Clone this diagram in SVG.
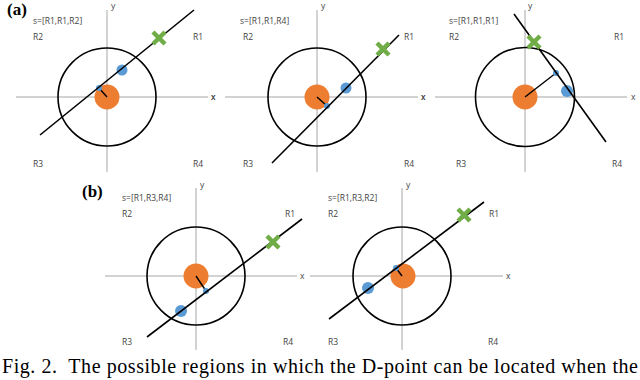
<svg xmlns="http://www.w3.org/2000/svg" width="640" height="380" viewBox="0 0 640 380">
<defs>
<style>
.ax{stroke:#a6a6a6;stroke-width:1;fill:none}
.cir{stroke:#000;stroke-width:1.6;fill:none}
.ln{stroke:#000;stroke-width:1.6;fill:none}
.sg{stroke:#000;stroke-width:1.4}
.org{fill:#ED7D31}
.blu{fill:#5B9BD5}
.xm{stroke:#70AD47;stroke-width:4.5;stroke-linecap:butt}
.lb{font-family:"Open Sans","Liberation Sans",sans-serif;font-size:8.5px;fill:#444}
.pl{font-family:"Liberation Serif",serif;font-size:17px;font-weight:bold;fill:#000}
.cap{font-family:"Liberation Serif",serif;font-size:20px;fill:#000}
</style>
<g id="xmark"><line class="xm" x1="-6" y1="-6" x2="6" y2="6"/><line class="xm" x1="-6" y1="6" x2="6" y2="-6"/></g>
</defs>
<rect width="640" height="380" fill="#fff"/>

<g id="panel-a1">
<line class="ax" x1="107" y1="10" x2="107" y2="172"/>
<line class="ax" x1="16" y1="97" x2="208" y2="97"/>
<text class="lb" x="211" y="100">x</text>
<text class="lb" x="111" y="9">y</text>
<text class="lb" x="33" y="24">s=[R1,R1,R2]</text>
<text class="lb" x="33" y="40">R2</text>
<text class="lb" x="193" y="40">R1</text>
<text class="lb" x="33" y="167">R3</text>
<text class="lb" x="193" y="167">R4</text>
<circle class="cir" cx="107" cy="97" r="49"/>
<circle class="org" cx="107" cy="97" r="12.5"/>
<line class="sg" x1="107" y1="97" x2="99" y2="88"/>
<circle class="blu" cx="99" cy="88" r="3"/>
<circle class="blu" cx="122" cy="70" r="5.5"/>
<line class="ln" x1="40" y1="135" x2="194" y2="10"/>
<use href="#xmark" x="159" y="38"/>
</g>

<g id="panel-a2">
<line class="ax" x1="317" y1="10" x2="317" y2="172"/>
<line class="ax" x1="225" y1="97" x2="418" y2="97"/>
<text class="lb" x="211" y="100">x</text>
<text class="lb" x="421" y="100">x</text>
<text class="lb" x="321" y="9">y</text>
<text class="lb" x="240" y="24">s=[R1,R1,R4]</text>
<text class="lb" x="243" y="40">R2</text>
<text class="lb" x="404" y="40">R1</text>
<text class="lb" x="243" y="167">R3</text>
<text class="lb" x="404" y="167">R4</text>
<circle class="cir" cx="317" cy="97" r="49"/>
<circle class="org" cx="317" cy="97" r="12.5"/>
<line class="sg" x1="317" y1="97" x2="327" y2="106"/>
<circle class="blu" cx="327" cy="106" r="3"/>
<circle class="blu" cx="346" cy="88" r="5.5"/>
<line class="ln" x1="272" y1="163" x2="399" y2="35"/>
<use href="#xmark" x="383" y="49"/>
</g>

<g id="panel-a3">
<line class="ax" x1="525" y1="10" x2="525" y2="172"/>
<line class="ax" x1="435" y1="97" x2="627" y2="97"/>
<text class="lb" x="421" y="100">x</text>
<text class="lb" x="631" y="100">x</text>
<text class="lb" x="528" y="9">y</text>
<text class="lb" x="449" y="24">s=[R1,R1,R1]</text>
<text class="lb" x="449" y="40">R2</text>
<text class="lb" x="614" y="40">R1</text>
<text class="lb" x="456" y="167">R3</text>
<text class="lb" x="612" y="167">R4</text>
<circle class="cir" cx="525" cy="97" r="49.5"/>
<circle class="org" cx="525" cy="97" r="12.5"/>
<line class="sg" x1="525" y1="97" x2="556" y2="73"/>
<circle class="blu" cx="556" cy="73" r="3"/>
<circle class="blu" cx="567" cy="91" r="6"/>
<line class="ln" x1="514" y1="14" x2="606" y2="142"/>
<use href="#xmark" x="534" y="42"/>
</g>

<g id="panel-b1">
<text class="pl" x="82" y="197">(b)</text>
<line class="ax" x1="196" y1="188" x2="196" y2="350"/>
<line class="ax" x1="105" y1="276" x2="297" y2="276"/>
<text class="lb" x="300" y="279">x</text>
<text class="lb" x="200" y="188">y</text>
<text class="lb" x="122" y="201">s=[R1,R3,R4]</text>
<text class="lb" x="122" y="217">R2</text>
<text class="lb" x="285" y="217">R1</text>
<text class="lb" x="122" y="345">R3</text>
<text class="lb" x="283" y="345">R4</text>
<circle class="cir" cx="196" cy="276" r="49"/>
<circle class="org" cx="196" cy="276" r="12.5"/>
<line class="sg" x1="196" y1="276" x2="206" y2="291"/>
<circle class="blu" cx="206" cy="291" r="3"/>
<circle class="blu" cx="181" cy="311" r="6"/>
<line class="ln" x1="147" y1="337" x2="302" y2="219"/>
<use href="#xmark" x="273" y="242"/>
</g>

<g id="panel-b2">
<line class="ax" x1="402" y1="188" x2="402" y2="350"/>
<line class="ax" x1="310" y1="276" x2="503" y2="276"/>
<text class="lb" x="506" y="279">x</text>
<text class="lb" x="406" y="188">y</text>
<text class="lb" x="328" y="201">s=[R1,R3,R2]</text>
<text class="lb" x="328" y="217">R2</text>
<text class="lb" x="489" y="217">R1</text>
<text class="lb" x="328" y="345">R3</text>
<text class="lb" x="488" y="345">R4</text>
<circle class="cir" cx="402" cy="276" r="49"/>
<circle class="org" cx="403" cy="276" r="12.5"/>
<line class="sg" x1="402" y1="276" x2="396" y2="268"/>
<circle class="blu" cx="396" cy="268" r="3"/>
<circle class="blu" cx="368" cy="288" r="6"/>
<line class="ln" x1="329" y1="319" x2="484" y2="202"/>
<use href="#xmark" x="464" y="215"/>
</g>

<text class="pl" x="7" y="15">(a)</text>
<text class="cap" x="2" y="373" xml:space="preserve" textLength="636" lengthAdjust="spacing">Fig. 2.  The possible regions in which the D-point can be located when the</text>
</svg>
